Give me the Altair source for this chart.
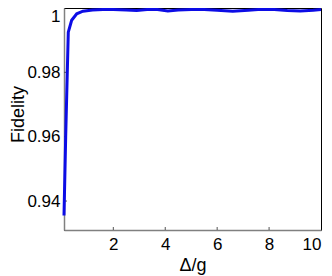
import altair as alt
import pandas as pd

detuning = [0.1, 0.165, 0.265, 0.395, 0.59, 0.83, 1.2, 1.6, 2.0, 2.5, 2.9, 3.3, 3.7, 4.1, 4.5,
            5.0, 5.5, 6.0, 6.6, 7.2, 7.7, 8.2, 8.7, 9.2, 9.7, 10.0]
fidelity = [0.9355, 0.960, 0.9925, 0.9962, 0.9982, 0.9990, 0.9994, 0.9995, 0.9995,
            0.9994, 0.9992, 0.9995, 0.9995, 0.9991, 0.9994, 0.9995, 0.9995, 0.9993, 0.9990,
            0.9993, 0.9996, 0.9995, 0.9992, 0.9991, 0.9993, 0.9995]
x_ticks = [2, 4, 6, 8, 10]
y_ticks = [0.94, 0.96, 0.98, 1.0]

df = pd.DataFrame({"d": detuning, "f": fidelity})
xt = pd.DataFrame({"t": x_ticks[:-1]})
yt = pd.DataFrame({"t": y_ticks[:-1]})

FONT = "Liberation Sans"
xscale = alt.Scale(domain=[0.1, 10], nice=False, zero=False)
yscale = alt.Scale(domain=[0.931, 1.0], nice=False, zero=False)

line = alt.Chart(df).mark_line(color="#0c0ce6", strokeWidth=3).encode(
    x=alt.X("d:Q", scale=xscale,
            axis=alt.Axis(values=x_ticks, title="Δ/g", format="d", ticks=False, grid=False,
                          domainColor="#808080", domainWidth=1.5, labelPadding=6,
                          labelFont=FONT, labelFontSize=17, labelColor="black",
                          titleFont=FONT, titleFontSize=18, titleFontWeight="normal",
                          titleColor="black", titleY=35, titleBaseline="middle")),
    y=alt.Y("f:Q", scale=yscale,
            axis=alt.Axis(values=y_ticks, title="Fidelity", format="~g", ticks=False, grid=False,
                          domainColor="#808080", domainWidth=1.5, labelPadding=4,
                          labelFlush=True,
                          labelFont=FONT, labelFontSize=17, labelColor="black",
                          titleFont=FONT, titleFontSize=18, titleFontWeight="normal",
                          titleColor="black", titleAngle=-90, titleX=-46, titleY=106,
                          titleBaseline="middle", titleAlign="center")),
)

xtick = alt.Chart(xt).mark_rule(color="#555555", strokeWidth=1).encode(
    x=alt.X("t:Q", scale=xscale), y=alt.value(222), y2=alt.value(219))
ytick = alt.Chart(yt).mark_rule(color="#555555", strokeWidth=1).encode(
    y=alt.Y("t:Q", scale=yscale), x=alt.value(0), x2=alt.value(3))

chart = alt.layer(xtick, ytick, line).properties(
    width=257, height=222,
    autosize=alt.AutoSizeParams(type="none"),
    padding={"left": 56, "top": 0, "right": 3, "bottom": 60},
).configure_view(stroke="black", strokeWidth=1)

chart.save("out.html", embed_options={"renderer": "svg", "actions": False})
